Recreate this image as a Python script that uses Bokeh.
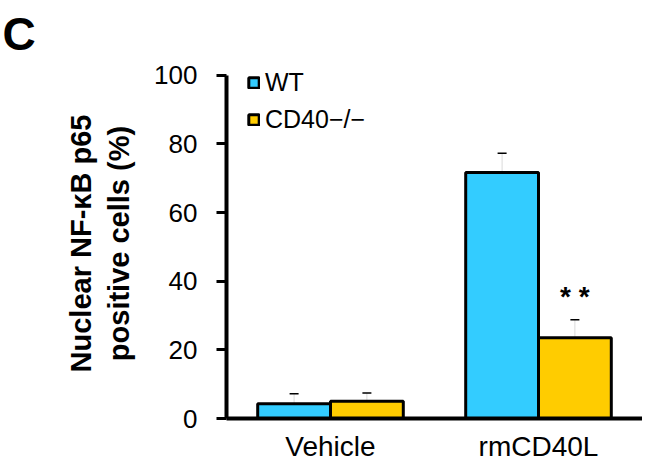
from bokeh.plotting import figure
from bokeh.models import FactorRange, ColumnDataSource, Whisker, Legend, LegendItem, TeeHead, FixedTicker
from bokeh.transform import dodge
from bokeh.core.properties import value
from bokeh.embed import file_html
from bokeh.resources import INLINE

categories = ["Vehicle", "rmCD40L"]
wt = [4.3, 71.7]
wt_err = [2.9, 5.6]
ko = [5.0, 23.5]
ko_err = [2.4, 5.3]
series_names = ["WT", "CD40\u2212/\u2212"]
y_ticks = [0, 20, 40, 60, 80, 100]
sig_cat = ["rmCD40L"]
sig_y = [35.6]
sig_text = ["* *"]
panel_letter = "C"

FONT = "Liberation Sans"
C_WT = "#33CCFF"
C_KO = "#FFCC00"

src = ColumnDataSource(dict(
    cat=categories, wt=wt, ko=ko,
    wt_up=[v + e for v, e in zip(wt, wt_err)],
    ko_up=[v + e for v, e in zip(ko, ko_err)],
))
sig_src = ColumnDataSource(dict(cat=sig_cat, y=sig_y, t=sig_text))

p = figure(width=642, height=464, x_range=FactorRange(factors=categories, range_padding=0),
           y_range=(0, 102), output_backend="svg", toolbar_location=None,
           min_border_left=226, min_border_right=0, min_border_top=68, min_border_bottom=44)
p.outline_line_color = None
p.xgrid.grid_line_color = None
p.ygrid.grid_line_color = None
p.background_fill_color = "white"

p.title.text = panel_letter
p.title.text_font = FONT
p.title.text_font_style = "bold"
p.title.text_font_size = "46px"
p.title.text_color = "black"
p.title.align = "left"
p.title.vertical_align = "top"
p.title.offset = -224
p.title.standoff = 13

bw = 0.35
r_wt = p.vbar(x=dodge("cat", -bw / 2, range=p.x_range), top="wt", width=bw, source=src,
              fill_color=C_WT, line_color="black", line_width=3)
r_ko = p.vbar(x=dodge("cat", bw / 2, range=p.x_range), top="ko", width=bw, source=src,
              fill_color=C_KO, line_color="black", line_width=3)

for key, off in (("wt", -bw / 2), ("ko", bw / 2)):
    w = Whisker(base=dodge("cat", off, range=p.x_range), lower=key, upper=key + "_up", source=src,
                line_color="black", line_width=1, line_alpha=0.15, lower_head=None,
                upper_head=TeeHead(size=9, line_color="black", line_width=1.5))
    p.add_layout(w)

p.text(x=dodge("cat", bw / 2, range=p.x_range), y="y", text="t", source=sig_src,
       text_font=value(FONT), text_font_size="28px", text_font_style="bold",
       text_align="center", text_baseline="middle", text_color="black")

p.yaxis.ticker = FixedTicker(ticks=y_ticks)
p.yaxis.bounds = (y_ticks[0], y_ticks[-1])
p.yaxis.axis_line_width = 4
p.yaxis.axis_line_color = "black"
p.yaxis.major_tick_line_width = 3
p.yaxis.major_tick_line_color = "black"
p.yaxis.major_tick_out = 10
p.yaxis.major_tick_in = 0
p.yaxis.minor_tick_line_color = None
p.yaxis.major_label_text_font = FONT
p.yaxis.major_label_text_font_size = "26px"
p.yaxis.major_label_text_color = "black"
p.yaxis.major_label_standoff = 19
p.yaxis.axis_label = "Nuclear NF-\u03baB p65\npositive cells (%)"
p.yaxis.axis_label_text_font = FONT
p.yaxis.axis_label_text_font_style = "bold"
p.yaxis.axis_label_text_font_size = "29px"
p.yaxis.axis_label_text_color = "black"
p.yaxis.axis_label_standoff = 16

p.xaxis.axis_line_width = 4
p.xaxis.axis_line_color = "black"
p.xaxis.major_tick_line_color = None
p.xaxis.major_tick_out = 0
p.xaxis.major_tick_in = 0
p.xaxis.minor_tick_line_color = None
p.xaxis.major_label_text_font = FONT
p.xaxis.major_label_text_font_size = "28px"
p.xaxis.major_label_text_color = "black"
p.xaxis.major_label_standoff = 12

legend = Legend(items=[LegendItem(label=series_names[0], renderers=[r_wt]),
                       LegendItem(label=series_names[1], renderers=[r_ko])],
                location=(21, 284), orientation="vertical")
legend.border_line_color = None
legend.background_fill_alpha = 0
legend.glyph_width = 13
legend.glyph_height = 13
legend.label_text_font = FONT
legend.label_text_font_size = "25px"
legend.label_text_color = "black"
legend.label_standoff = 5
legend.spacing = 8
legend.padding = 2
legend.margin = 0
p.add_layout(legend)

open("out.html", "w").write(file_html(p, INLINE))
